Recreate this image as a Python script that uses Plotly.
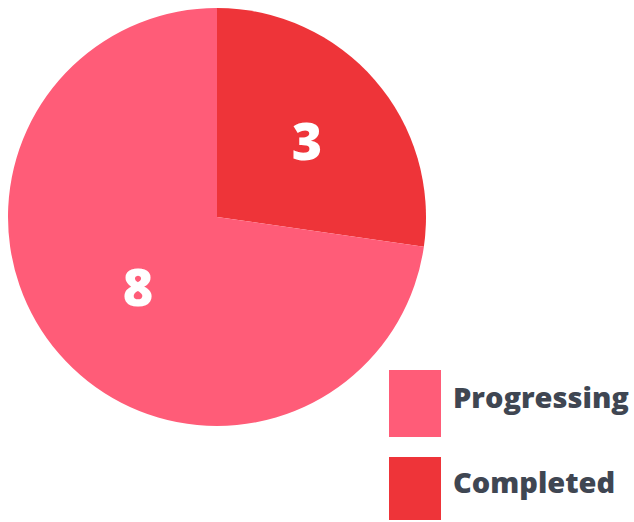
import plotly.graph_objects as go

labels = ["Progressing", "Completed"]
values = [8, 3]
colors = ["#FF5C78", "#EE3439"]

W, H = 634, 522

fig = go.Figure()
fig.add_trace(go.Pie(
    labels=labels[::-1],
    values=values[::-1],
    marker=dict(colors=colors[::-1], line=dict(width=0)),
    sort=False,
    direction="clockwise",
    rotation=0,
    textinfo="value",
    textposition="inside",
    insidetextorientation="horizontal",
    textfont=dict(family="Open Sans", size=52, color="white", weight=800),
    domain=dict(x=[8 / W, 426 / W], y=[1 - 426 / H, 1 - 8 / H]),
    showlegend=False,
    hoverinfo="label+value",
))

# custom legend
box_x0, box_x1 = 389, 441
rows = [(370, 437), (457, 520)]
for lab, col, (y0, y1) in zip(labels, colors, rows):
    fig.add_shape(type="rect", xref="paper", yref="paper",
                  x0=box_x0 / W, x1=box_x1 / W, y0=1 - y1 / H, y1=1 - y0 / H,
                  fillcolor=col, line=dict(width=0))
    fig.add_annotation(xref="paper", yref="paper", x=451 / W, y=1 - ((y0 + y1) / 2 - 7) / H,
                       text=lab, showarrow=False, xanchor="left", yanchor="middle",
                       font=dict(family="Open Sans", size=29, color="#3F4652", weight=800))

fig.update_layout(
    width=W, height=H,
    margin=dict(l=0, r=0, t=0, b=0),
    paper_bgcolor="white",
    plot_bgcolor="white",
)

fig.write_html("out.html")
